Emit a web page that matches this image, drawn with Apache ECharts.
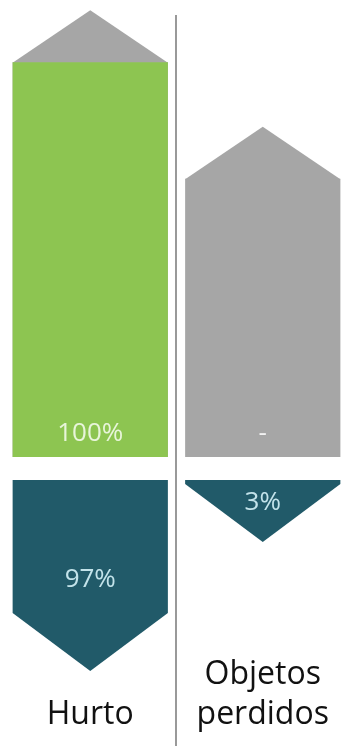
<!DOCTYPE html>
<html>
<head>
<meta charset="utf-8">
<script src="https://cdn.jsdelivr.net/npm/echarts@6/dist/echarts.min.js"></script>
<style>
html,body{margin:0;padding:0;background:#fff;}
#chart{width:341px;height:746px;}
</style>
</head>
<body>
<div id="chart"></div>
<script>
// Data
const categories = ['Hurto', 'Objetos\nperdidos'];
const houseTotals = [100, 70.5];      // gray house body (upper block)
const upperShares = [100, null];      // green share; null shown as "-"
const lowerShares = [97, 3];          // teal down-arrows

const FONT = '"Open Sans", "Noto Sans", sans-serif';
const GRAY = '#A6A6A6', GREEN = '#8DC551', TEAL = '#215A69';

const chart = echarts.init(document.getElementById('chart'), null, {renderer: 'canvas'});

const upperData = categories.map((c, i) => [i, houseTotals[i], upperShares[i] == null ? '-' : upperShares[i]]);
const lowerData = categories.map((c, i) => [i, lowerShares[i]]);

function renderHouse(params, api) {
  const idx = api.value(0);
  const base = api.value(1);
  const raw = upperData[params.dataIndex][2];
  const bottom = api.coord([idx, 0]);
  const topPt = api.coord([idx, base]);
  const w = api.size([1, 0])[0] * 0.9;
  const cx = bottom[0], l = cx - w / 2, r = cx + w / 2;
  const yb = bottom[1], yt = topPt[1];
  const roofH = 52;
  const children = [
    {type: 'polygon', shape: {points: [[l, yt + 0.5], [cx, yt - roofH], [r, yt + 0.5]]}, style: {fill: GRAY}},
    {type: 'rect', shape: {x: l, y: yt, width: w, height: yb - yt}, style: {fill: GRAY}}
  ];
  if (raw !== '-') {
    const gt = api.coord([idx, raw])[1];
    children.push({type: 'rect', shape: {x: l, y: gt, width: w, height: yb - gt}, style: {fill: GREEN}});
  }
  children.push({
    type: 'text', x: cx, y: yb - 23,
    style: {text: raw === '-' ? '-' : raw + '%', fill: raw === '-' ? '#F2F2F2' : '#E8F5DA',
      font: '26px ' + FONT, align: 'center', verticalAlign: 'middle'}
  });
  return {type: 'group', children};
}

function renderArrow(params, api) {
  const idx = api.value(0);
  const v = api.value(1);
  const top = api.coord([idx, 0]);
  const rb = api.coord([idx, v])[1];
  const w = api.size([1, 0])[0] * 0.9;
  const cx = top[0], l = cx - w / 2, r = cx + w / 2;
  const yt = top[1];
  const triH = 58;
  return {type: 'group', children: [
    {type: 'polygon', shape: {points: [[l, yt], [r, yt], [r, rb], [cx, rb + triH], [l, rb]]}, style: {fill: TEAL}},
    {type: 'text', x: cx, y: yt + 0.6 * (rb - yt) + 0.35 * triH,
      style: {text: v + '%', fill: '#C3E3EA', font: '26px ' + FONT, align: 'center', verticalAlign: 'middle'}}
  ]};
}

chart.setOption({
  animation: false,
  backgroundColor: '#fff',
  grid: [
    {left: 4, width: 345, top: 3, height: 454, outerBoundsMode: 'none', containLabel: false},
    {left: 4, width: 345, top: 480, height: 200, outerBoundsMode: 'none', containLabel: false}
  ],
  xAxis: [
    {gridIndex: 0, type: 'category', data: categories, show: false},
    {gridIndex: 1, type: 'category', data: categories, position: 'bottom',
      axisLine: {show: false, onZero: false}, axisTick: {show: false}, splitLine: {show: false},
      axisLabel: {show: true, interval: 0, margin: 55, verticalAlign: 'bottom', lineHeight: 40,
        fontSize: 32, fontFamily: FONT, color: '#111111'}}
  ],
  yAxis: [
    {gridIndex: 0, type: 'value', min: 0, max: 115, show: false},
    {gridIndex: 1, type: 'value', min: 0, max: 146, inverse: true, show: false}
  ],
  graphic: [
    {type: 'line', shape: {x1: 176, y1: 15, x2: 176, y2: 746}, style: {stroke: '#808080', lineWidth: 1.6}, z: 10}
  ],
  series: [
    {type: 'custom', xAxisIndex: 0, yAxisIndex: 0, data: upperData, renderItem: renderHouse,
      encode: {x: 0, y: 1}},
    {type: 'custom', xAxisIndex: 1, yAxisIndex: 1, data: lowerData, renderItem: renderArrow,
      encode: {x: 0, y: 1}}
  ]
});
</script>
</body>
</html>
